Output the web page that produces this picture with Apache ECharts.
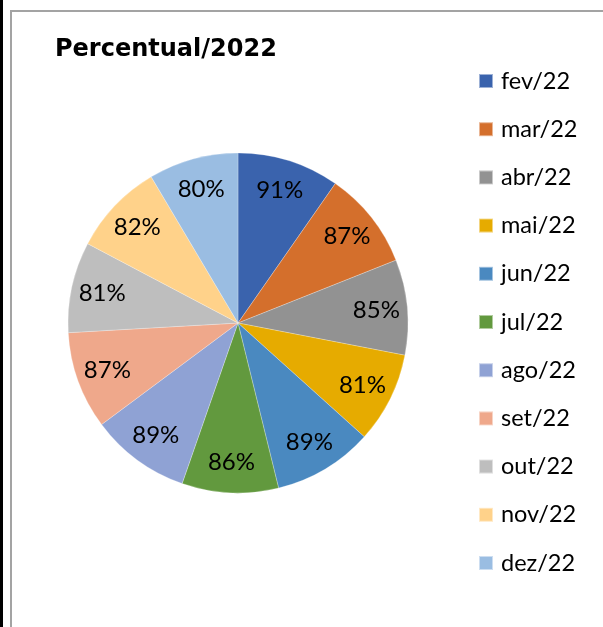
<!DOCTYPE html>
<html>
<head>
<meta charset="utf-8">
<script src="https://cdn.jsdelivr.net/npm/echarts@6/dist/echarts.min.js"></script>
<style>
  html, body { margin: 0; padding: 0; background: #fff; }
  #wrap { position: relative; width: 603px; height: 627px; overflow: hidden; }
  #blk { position: absolute; left: 0; top: 0; width: 3px; height: 627px; background: #000; }
  #frame { position: absolute; left: 10px; top: 10px; width: 600px; height: 620px;
           border-left: 2px solid #a3a3a3; border-top: 2px solid #a3a3a3; }
  #chart { position: absolute; left: 0; top: 0; width: 603px; height: 627px; }
</style>
</head>
<body>
<div id="wrap">
  <div id="blk"></div>
  <div id="frame"></div>
  <div id="chart"></div>
</div>
<script>
const categories = ['fev/22','mar/22','abr/22','mai/22','jun/22','jul/22','ago/22','set/22','out/22','nov/22','dez/22'];
const values = [91, 87, 85, 81, 89, 86, 89, 87, 81, 82, 80];
const colors = ['#3A63AD','#D46F2C','#929292','#E6AB00','#4A89C0','#62993E','#8FA2D4','#EFA88B','#BEBEBE','#FFD28A','#9ABDE2'];
const titleText = 'Percentual/2022';

const pieData = categories.map((c, i) => ({ name: c, value: values[i], itemStyle: { color: colors[i] } }));
const labelData = categories.map((c, i) => ({ name: c, value: values[i] }));

const chart = echarts.init(document.getElementById('chart'), null, { renderer: 'canvas' });
chart.setOption({
  animation: false,
  backgroundColor: 'transparent',
  title: {
    text: titleText,
    left: 50, top: 33,
    textStyle: { fontFamily: 'DejaVu Sans', fontWeight: 'bold', fontSize: 24, color: '#000' }
  },
  legend: {
    orient: 'vertical',
    left: 478, top: 69,
    padding: 0,
    itemWidth: 14, itemHeight: 14,
    itemGap: 24.2,
    icon: 'rect',
    data: categories,
    textStyle: { fontFamily: 'Lato', fontSize: 23.5, color: '#000', lineHeight: 24, padding: [0,0,0,3] }
  },
  series: [
    {
      type: 'pie',
      center: [238, 323],
      radius: [0, 170],
      startAngle: 90,
      clockwise: true,
      label: { show: false },
      labelLine: { show: false },
      itemStyle: { borderColor: 'rgba(255,255,255,0.5)', borderWidth: 0.5 },
      silent: true,
      data: pieData
    },
    {
      type: 'pie',
      center: [238, 323],
      radius: [102, 170],
      startAngle: 90,
      clockwise: true,
      silent: true,
      legendHoverLink: false,
      itemStyle: { color: 'rgba(0,0,0,0)' },
      label: {
        show: true, position: 'inside',
        formatter: p => p.value + '%',
        fontFamily: 'Lato', fontSize: 24, color: '#000'
      },
      labelLine: { show: false },
      data: labelData
    }
  ]
});
</script>
</body>
</html>
